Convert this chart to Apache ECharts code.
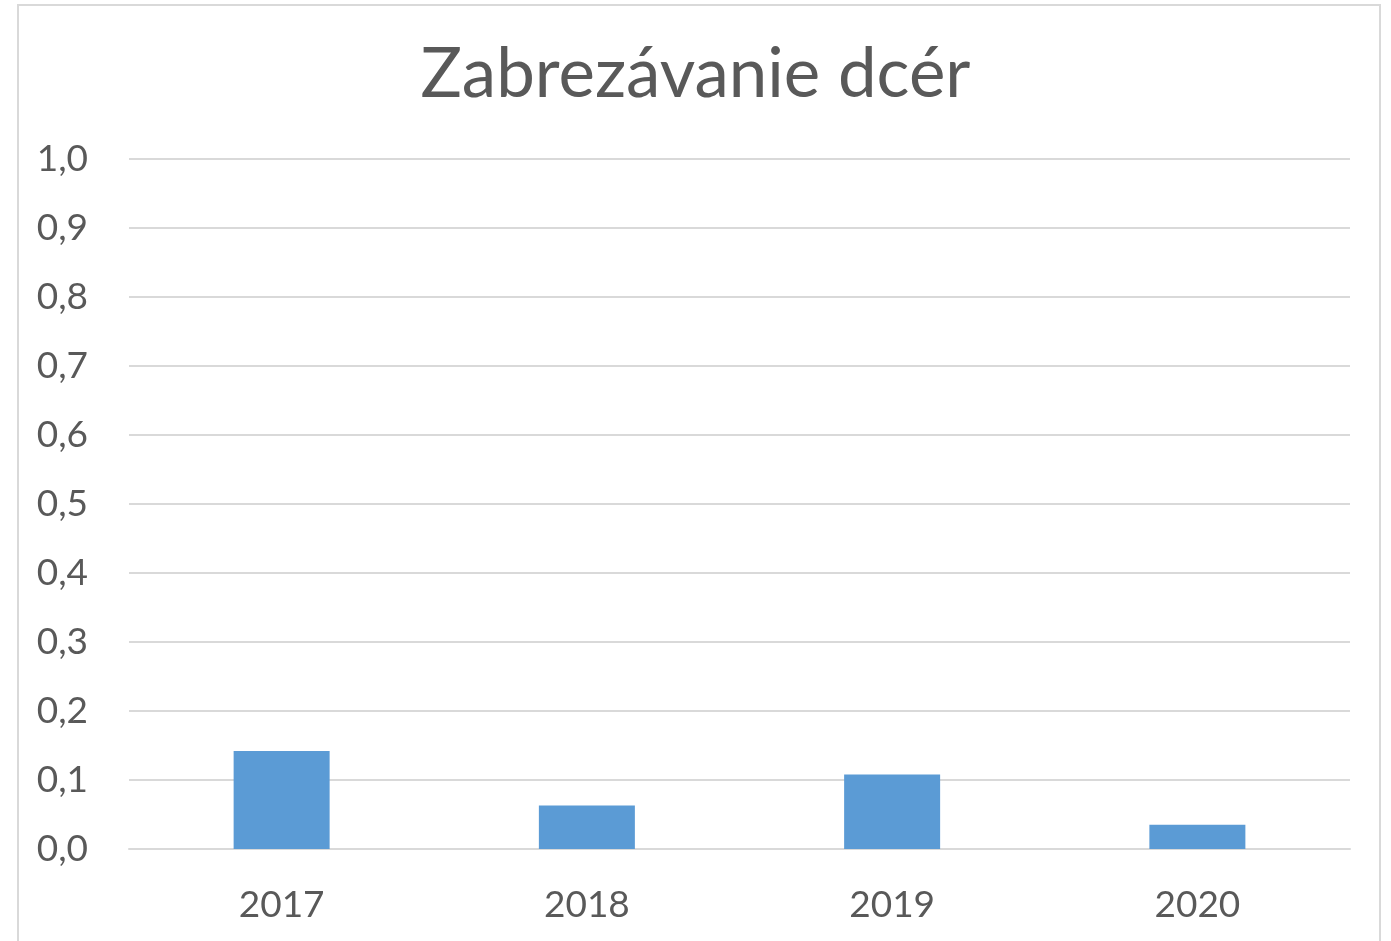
<!DOCTYPE html>
<html>
<head>
<meta charset="utf-8">
<script src="https://cdn.jsdelivr.net/npm/echarts@6/dist/echarts.min.js"></script>
<style>
  html, body { margin: 0; padding: 0; background: #fff; }
  #chart { width: 1391px; height: 941px; }
</style>
</head>
<body>
<div id="chart"></div>
<script>
// data
var years = ['2017', '2018', '2019', '2020'];
var values = [0.142, 0.063, 0.108, 0.035];
var titleText = 'Zabrezávanie dcér';

var chart = echarts.init(document.getElementById('chart'));
var textColor = '#595959';

var option = {
  backgroundColor: '#fff',
  animation: false,
  title: {
    text: titleText,
    left: 'center',
    top: 35,
    textStyle: {
      fontFamily: 'Lato',
      fontWeight: 'normal',
      fontSize: 69,
      color: textColor
    }
  },
  grid: {
    left: 129,
    right: 41,
    top: 159,
    bottom: 92
  },
  xAxis: {
    type: 'category',
    data: years,
    axisLine: { show: true, lineStyle: { color: '#D9D9D9', width: 2 } },
    axisTick: { show: false },
    axisLabel: {
      margin: 38,
      fontFamily: 'Lato',
      fontSize: 37,
      color: textColor
    }
  },
  yAxis: {
    type: 'value',
    min: 0,
    max: 1,
    interval: 0.1,
    axisLine: { show: false },
    axisTick: { show: false },
    splitLine: { lineStyle: { color: '#D9D9D9', width: 2 } },
    axisLabel: {
      margin: 41,
      fontFamily: 'Lato',
      fontSize: 37,
      color: textColor,
      // comma as the decimal sign
      formatter: function (v) {
        return v.toFixed(1).replace('.', ',');
      }
    }
  },
  series: [{
    type: 'bar',
    data: values,
    barWidth: 96,
    itemStyle: { color: '#5B9BD5' }
  }],
  graphic: [{
    type: 'rect',
    shape: { x: 18, y: 5, width: 1362, height: 1000 },
    style: { fill: 'none', stroke: '#D9D9D9', lineWidth: 2 },
    silent: true
  }]
};

chart.setOption(option);
</script>
</body>
</html>
